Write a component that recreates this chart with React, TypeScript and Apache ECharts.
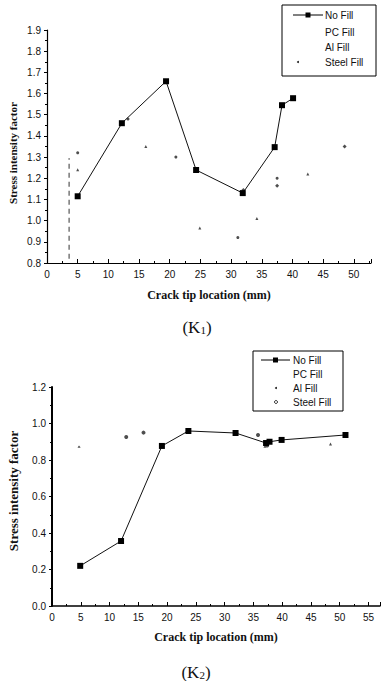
import React, { useEffect, useRef } from "react";
import * as echarts from "echarts";

// ---- Chart K1 data ----
const k1NoFill: [number, number][] = [
  [5, 1.115], [12.2, 1.46], [19.4, 1.658], [24.3, 1.239], [31.9, 1.13], [37.1, 1.347], [38.3, 1.545], [40.1, 1.578],
];
const k1PCFill: [number, number][] = [
  [5, 1.32], [13.2, 1.48], [21, 1.3], [31.1, 0.92], [37.5, 1.2],
];
const k1AlFill: [number, number][] = [
  [5, 1.24], [16.1, 1.35], [24.9, 0.965], [34.2, 1.01], [42.5, 1.22],
];
const k1SteelFill: [number, number][] = [
  [32, 1.145], [37.5, 1.165], [48.5, 1.35],
];
const k1Dashed: [number, number][] = [[3.6, 0.82], [3.6, 1.295]];

// ---- Chart K2 data ----
const k2NoFill: [number, number][] = [
  [4.9, 0.22], [12.0, 0.356], [19.1, 0.877], [23.7, 0.959], [31.9, 0.948], [37.2, 0.893], [37.8, 0.9], [39.9, 0.91], [51.0, 0.937],
];
const k2PCFill: [number, number][] = [
  [12.9, 0.926], [15.9, 0.95], [35.8, 0.937], [37.4, 0.88],
];
const k2AlFill: [number, number][] = [
  [4.7, 0.875], [48.4, 0.888], [37.0, 0.875],
];
const k2SteelFill: [number, number][] = [
  [4.7, 0.895], [24.7, 1.02], [42.3, 0.98],
];

const legendNames = ["No Fill", "PC Fill", "Al Fill", "Steel Fill"];
const xTitle = "Crack tip location (mm)";
const yTitle = "Stress intensity factor";

export default function App() {
  const ref = useRef<HTMLDivElement>(null);
  useEffect(() => {
    if (!ref.current) return;
    const chart = echarts.init(ref.current, null, { renderer: "svg" });
    const axisFont = { fontFamily: "Arial, Liberation Sans, sans-serif", fontSize: 10, color: "#111" };
    const lineStyle = { color: "#000", width: 1 };
    const xFmt = (v: number) => (Math.abs(v % 5) < 1e-6 ? String(Math.round(v)) : "");
    const scatterBase = (name: string, data: [number, number][], symbol: string, size: number, xi: number) => ({
      type: "scatter",
      name,
      xAxisIndex: xi,
      yAxisIndex: xi,
      data,
      symbol,
      symbolSize: size,
      itemStyle: { color: "#222" },
    });
    const option: any = {
      animation: false,
      backgroundColor: "#fff",
      grid: [
        { left: 47, top: 30, width: 324, height: 233 },
        { left: 52, top: 387, width: 328, height: 219 },
      ],
      xAxis: [
        {
          gridIndex: 0, type: "value", min: 0, max: 52.8, interval: 5,
          axisLine: { lineStyle: { color: "#000", width: 1.2 } },
          axisTick: { inside: true, length: 4, lineStyle },
          minorTick: { show: true, splitNumber: 2, length: 2, lineStyle },
          splitLine: { show: false },
          axisLabel: { ...axisFont, margin: 6, formatter: xFmt, showMaxLabel: false },
        },
        {
          gridIndex: 1, type: "value", min: 0, max: 57, interval: 5,
          axisLine: { lineStyle: { color: "#000", width: 1.5 } },
          axisTick: { inside: true, length: 4, lineStyle },
          minorTick: { show: true, splitNumber: 2, length: 2, lineStyle },
          splitLine: { show: false },
          axisLabel: { ...axisFont, margin: 6, formatter: xFmt, showMaxLabel: false },
        },
      ],
      yAxis: [
        {
          gridIndex: 0, type: "value", min: 0.8, max: 1.9, interval: 0.1,
          axisLine: { show: true, lineStyle: { color: "#000", width: 1.2 } },
          axisTick: { show: true, inside: false, length: 3, lineStyle },
          minorTick: { show: true, splitNumber: 2, length: 2, lineStyle },
          splitLine: { show: false },
          axisLabel: { ...axisFont, margin: 6, formatter: (v: number) => v.toFixed(1) },
        },
        {
          gridIndex: 1, type: "value", min: 0, max: 1.2, interval: 0.2,
          axisLine: { show: true, lineStyle: { color: "#000", width: 2 } },
          axisTick: { show: true, inside: false, length: 3, lineStyle },
          minorTick: { show: true, splitNumber: 2, length: 2, lineStyle },
          splitLine: { show: false },
          axisLabel: { ...axisFont, margin: 6, formatter: (v: number) => v.toFixed(1) },
        },
      ],
      series: [
        {
          type: "line", name: legendNames[0], xAxisIndex: 0, yAxisIndex: 0, data: k1NoFill,
          symbol: "rect", symbolSize: 6, lineStyle: { color: "#111", width: 1 }, itemStyle: { color: "#000" },
        },
        scatterBase(legendNames[1], k1PCFill, "circle", 3, 0),
        scatterBase(legendNames[2], k1AlFill, "triangle", 3, 0),
        scatterBase(legendNames[3], k1SteelFill, "diamond", 4, 0),
        {
          type: "line", name: "dash", xAxisIndex: 0, yAxisIndex: 0, data: k1Dashed, symbol: "none",
          lineStyle: { color: "#333", width: 1, type: [5, 4] },
        },
        {
          type: "line", name: legendNames[0], xAxisIndex: 1, yAxisIndex: 1, data: k2NoFill,
          symbol: "rect", symbolSize: 6, lineStyle: { color: "#111", width: 1 }, itemStyle: { color: "#000" },
        },
        scatterBase(legendNames[1], k2PCFill, "circle", 4, 1),
        scatterBase(legendNames[2], k2AlFill, "triangle", 3, 1),
        { ...scatterBase(legendNames[3], k2SteelFill, "emptyDiamond", 5, 1), itemStyle: { color: "#fff", borderColor: "#222", borderWidth: 1 } },
      ],
      graphic: [
        // legend 1
        { type: "rect", shape: { x: 282, y: 5, width: 94, height: 71 }, style: { fill: "#fff", stroke: "#000", lineWidth: 1 } },
        { type: "line", shape: { x1: 293, y1: 15, x2: 323, y2: 15 }, style: { stroke: "#000", lineWidth: 1 } },
        { type: "rect", shape: { x: 305.5, y: 12.5, width: 5, height: 5 }, style: { fill: "#000" } },
        { type: "circle", shape: { cx: 298, cy: 62, r: 1 }, style: { fill: "#222" } },
        ...legendNames.map((n, i) => ({
          type: "text", x: 325, y: [15, 32, 47, 62][i],
          style: { text: n, fill: "#111", font: "10px Arial, Liberation Sans, sans-serif", textVerticalAlign: "middle" },
        })),
        // legend 2
        { type: "rect", shape: { x: 253, y: 351, width: 90, height: 60 }, style: { fill: "#fff", stroke: "#000", lineWidth: 1 } },
        { type: "line", shape: { x1: 261, y1: 360, x2: 290, y2: 360 }, style: { stroke: "#000", lineWidth: 1 } },
        { type: "rect", shape: { x: 273, y: 357.5, width: 5, height: 5 }, style: { fill: "#000" } },
        { type: "circle", shape: { cx: 276, cy: 388, r: 1 }, style: { fill: "#222" } },
        { type: "circle", shape: { cx: 276, cy: 402, r: 1.5 }, style: { fill: "#fff", stroke: "#222", lineWidth: 1 } },
        ...legendNames.map((n, i) => ({
          type: "text", x: 293, y: [360, 374, 388, 402][i],
          style: { text: n, fill: "#111", font: "10px Arial, Liberation Sans, sans-serif", textVerticalAlign: "middle" },
        })),
        // axis titles
        {
          type: "text", x: 209, y: 295,
          style: { text: xTitle, fill: "#111", font: "bold 12px 'Liberation Serif', 'Times New Roman', serif", textAlign: "center", textVerticalAlign: "middle" },
        },
        {
          type: "text", x: 216, y: 637,
          style: { text: xTitle, fill: "#111", font: "bold 12px 'Liberation Serif', 'Times New Roman', serif", textAlign: "center", textVerticalAlign: "middle" },
        },
        {
          type: "text", x: 13, y: 153, rotation: Math.PI / 2,
          style: { text: yTitle, fill: "#111", font: "bold 11px 'Liberation Serif', 'Times New Roman', serif", textAlign: "center", textVerticalAlign: "middle" },
        },
        {
          type: "text", x: 13, y: 491, rotation: Math.PI / 2,
          style: { text: yTitle, fill: "#111", font: "bold 13px 'Liberation Serif', 'Times New Roman', serif", textAlign: "center", textVerticalAlign: "middle" },
        },
        // captions
        {
          type: "text", x: 197, y: 327,
          style: {
            text: "{a|(K}{s|1}{a|)}", textAlign: "center", textVerticalAlign: "middle",
            rich: {
              a: { fontFamily: "'Liberation Serif', 'Times New Roman', serif", fontSize: 17, fill: "#111" },
              s: { fontFamily: "'Liberation Serif', 'Times New Roman', serif", fontSize: 11, fill: "#111", padding: [6, 0, 0, 0] },
            },
          },
        },
        {
          type: "text", x: 196, y: 672,
          style: {
            text: "{a|(K}{s|2}{a|)}", textAlign: "center", textVerticalAlign: "middle",
            rich: {
              a: { fontFamily: "'Liberation Serif', 'Times New Roman', serif", fontSize: 17, fill: "#111" },
              s: { fontFamily: "'Liberation Serif', 'Times New Roman', serif", fontSize: 11, fill: "#111", padding: [6, 0, 0, 0] },
            },
          },
        },
      ],
    };
    chart.setOption(option);
    return () => chart.dispose();
  }, []);
  return (
    <div
      ref={ref}
      style={{ position: "absolute", left: 0, top: 0, width: 381, height: 681, background: "#fff" }}
    />
  );
}
